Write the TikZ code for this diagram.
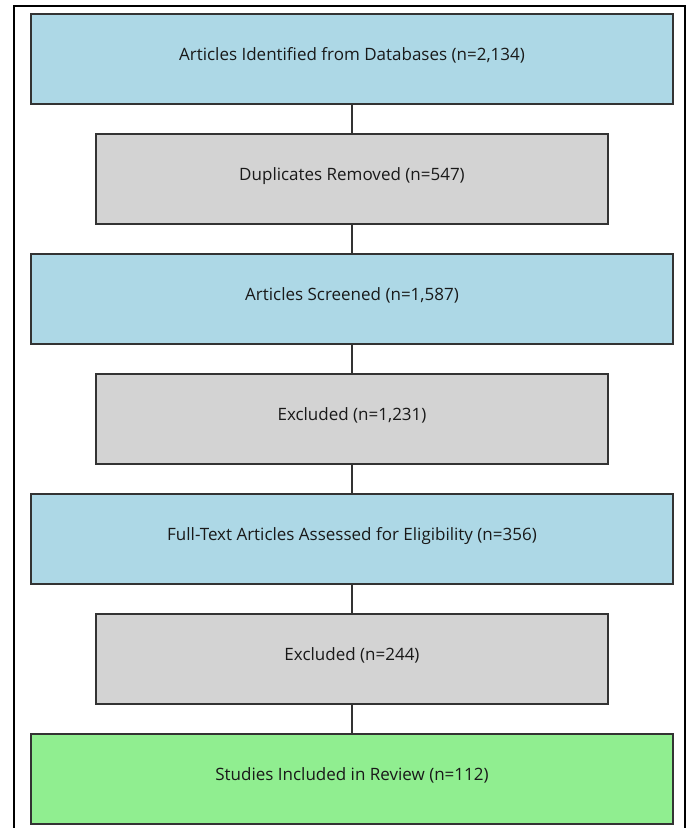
\documentclass[tikz,border=0pt]{standalone}
\usepackage{fontspec}
\setmainfont{Open Sans}
\definecolor{bluefill}{HTML}{ADD8E6}
\definecolor{grayfill}{HTML}{D3D3D3}
\definecolor{greenfill}{HTML}{90EE90}
\definecolor{edge}{HTML}{333333}
\begin{document}
\begin{tikzpicture}[x=1pt,y=-1pt,
  box/.style={draw=edge,line width=1.6pt,minimum height=90pt,inner sep=0pt,
    text height=13pt,text depth=10pt,
    font=\fontsize{17}{20}\selectfont,text=black!90},
  wide/.style={box,minimum width=642pt},
  narrow/.style={box,minimum width=512pt},
  link/.style={draw=edge,line width=1.4pt}]
\useasboundingbox (0,0) rectangle (688,828);
\fill[white] (0,0) rectangle (688,828);
\draw[line width=1.8pt] (14,830) -- (14,6) -- (685,6) -- (685,830);
\node[wide,fill=bluefill] (a) at (352,59) {Articles Identified from Databases (n=2,134)};
\node[narrow,fill=grayfill] (b) at (352,179) {Duplicates Removed (n=547)};
\node[wide,fill=bluefill] (c) at (352,299) {Articles Screened (n=1,587)};
\node[narrow,fill=grayfill] (d) at (352,419) {Excluded (n=1,231)};
\node[wide,fill=bluefill] (e) at (352,539) {Full-Text Articles Assessed for Eligibility (n=356)};
\node[narrow,fill=grayfill] (f) at (352,659) {Excluded (n=244)};
\node[wide,fill=greenfill] (g) at (352,779) {Studies Included in Review (n=112)};
\draw[link] (a) -- (b);
\draw[link] (b) -- (c);
\draw[link] (c) -- (d);
\draw[link] (d) -- (e);
\draw[link] (e) -- (f);
\draw[link] (f) -- (g);
\end{tikzpicture}
\end{document}
